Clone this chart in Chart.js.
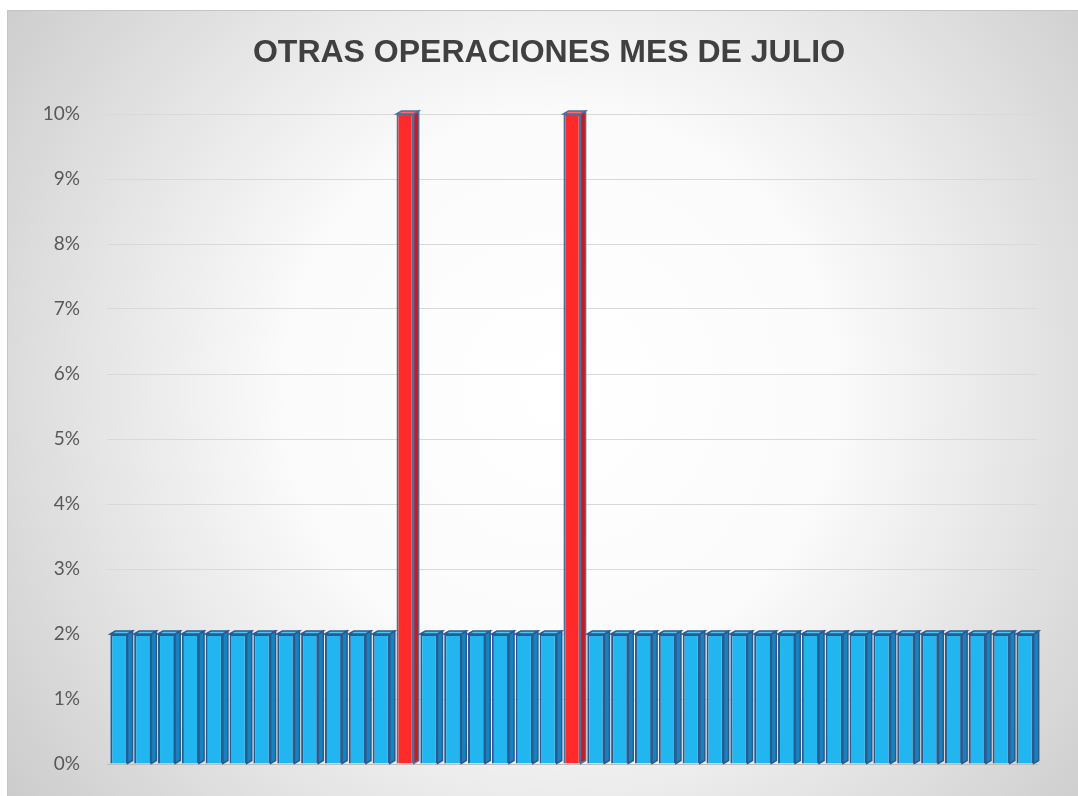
<!DOCTYPE html>
<html>
<head>
<meta charset="utf-8">
<script src="https://cdn.jsdelivr.net/npm/chart.js@4/dist/chart.umd.min.js"></script>
<style>
  html, body { margin: 0; padding: 0; background: #ffffff; }
  #wrap { width: 1078px; height: 796px; position: relative; }
</style>
</head>
<body>
<div id="wrap"><canvas id="grafico" width="1078" height="796"></canvas></div>
<script>
// Operaciones del mes: una barra por registro
const categorias = [
  '1','2','3','4','5','6','7','8','9','10',
  '11','12','13','14','15','16','17','18','19','20',
  '21','22','23','24','25','26','27','28','29','30',
  '31','32','33','34','35','36','37','38','39'
];
const porcentajes = [
  0.02, 0.02, 0.02, 0.02, 0.02, 0.02, 0.02, 0.02, 0.02, 0.02,
  0.02, 0.02, 0.10, 0.02, 0.02, 0.02, 0.02, 0.02, 0.02, 0.10,
  0.02, 0.02, 0.02, 0.02, 0.02, 0.02, 0.02, 0.02, 0.02, 0.02,
  0.02, 0.02, 0.02, 0.02, 0.02, 0.02, 0.02, 0.02, 0.02
];
const marcasEje = [0, 0.01, 0.02, 0.03, 0.04, 0.05, 0.06, 0.07, 0.08, 0.09, 0.10];
const titulo = 'OTRAS OPERACIONES MES DE JULIO';
const umbralAlto = 0.05;

const esAlto = v => v > umbralAlto;
const frente = porcentajes.map(v => esAlto(v) ? '#ff2a2a' : '#22b6f0');
const lateral = porcentajes.map(v => esAlto(v) ? '#c81c1c' : '#1682c0');
const superior = porcentajes.map(v => esAlto(v) ? '#ff6a6a' : '#4cc6f4');
const bordes = porcentajes.map(v => esAlto(v) ? '#4f6e9c' : '#2b5a8e');

// Fondo con degradado radial, marco y título centrado en el lienzo
const fondo = {
  id: 'fondo',
  beforeDraw(chart) {
    const ctx = chart.ctx;
    const W = chart.width, H = chart.height;
    ctx.save();
    ctx.fillStyle = '#ffffff';
    ctx.fillRect(0, 0, W, H);
    const g = ctx.createRadialGradient(560, 390, 0, 560, 390, 720);
    g.addColorStop(0, '#ffffff');
    g.addColorStop(0.38, '#fbfbfb');
    g.addColorStop(1, '#c8c8c8');
    ctx.fillStyle = g;
    ctx.fillRect(7, 10, W - 7, H - 10);
    ctx.strokeStyle = '#c4c4c4';
    ctx.lineWidth = 1;
    ctx.beginPath();
    ctx.moveTo(7.5, H);
    ctx.lineTo(7.5, 10.5);
    ctx.lineTo(W, 10.5);
    ctx.stroke();

    ctx.fillStyle = '#404040';
    ctx.font = 'bold 32px "Liberation Sans", Arial, sans-serif';
    ctx.textAlign = 'center';
    ctx.textBaseline = 'middle';
    ctx.fillText(titulo, 549, 53);
    ctx.restore();
  }
};

// Caras lateral y superior de cada barra (efecto de profundidad)
const profundidad = {
  id: 'profundidad',
  beforeDatasetsDraw(chart) {
    const ctx = chart.ctx;
    const dx = 5, dy = 3;
    const meta = chart.getDatasetMeta(0);
    ctx.save();
    meta.data.forEach((bar, i) => {
      const { x, y, base, width } = bar.getProps(['x', 'y', 'base', 'width'], true);
      const l = x - width / 2, r = x + width / 2;
      ctx.lineWidth = 1.5;
      ctx.strokeStyle = bordes[i];
      // cara lateral
      ctx.beginPath();
      ctx.moveTo(r, y);
      ctx.lineTo(r + dx, y - dy);
      ctx.lineTo(r + dx, base - dy);
      ctx.lineTo(r, base);
      ctx.closePath();
      ctx.fillStyle = lateral[i];
      ctx.fill();
      ctx.stroke();
      // cara superior
      ctx.beginPath();
      ctx.moveTo(l, y);
      ctx.lineTo(l + dx, y - dy);
      ctx.lineTo(r + dx, y - dy);
      ctx.lineTo(r, y);
      ctx.closePath();
      ctx.fillStyle = superior[i];
      ctx.fill();
      ctx.stroke();
    });
    ctx.restore();
  }
};

new Chart(document.getElementById('grafico'), {
  type: 'bar',
  data: {
    labels: categorias,
    datasets: [{
      data: porcentajes,
      backgroundColor: frente,
      borderColor: bordes,
      borderWidth: 2,
      barPercentage: 0.72,
      categoryPercentage: 1.0
    }]
  },
  options: {
    responsive: false,
    animation: false,
    layout: { padding: { left: 0, right: 41, top: 114, bottom: 32 } },
    plugins: {
      legend: { display: false },
      tooltip: { enabled: false },
      title: { display: false }
    },
    scales: {
      x: {
        afterFit(scale) { scale.height = 0; },
        ticks: { display: false },
        grid: { display: false, drawTicks: false },
        border: { display: true, color: '#bdbdbd', width: 1 }
      },
      y: {
        min: 0,
        max: 0.10,
        afterFit(scale) {
          scale.width = 107;
          scale.paddingTop = 0;
          scale.paddingBottom = 0;
        },
        afterBuildTicks(scale) { scale.ticks = marcasEje.map(v => ({ value: v })); },
        ticks: {
          padding: 27,
          color: '#595959',
          font: { family: 'Lato, "Open Sans", sans-serif', size: 19 },
          callback: v => Math.round(v * 100) + '%'
        },
        grid: { color: '#d9d9d9', lineWidth: 1, drawTicks: false },
        border: { display: false }
      }
    }
  },
  plugins: [fondo, profundidad]
});
</script>
</body>
</html>
